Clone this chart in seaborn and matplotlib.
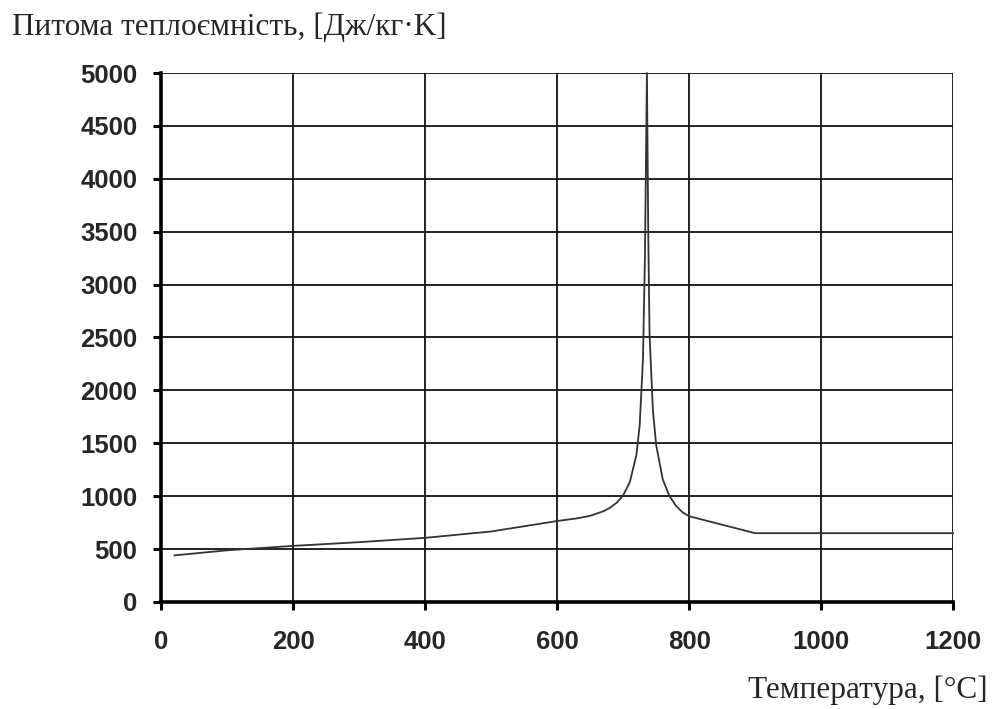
import numpy as np
import pandas as pd
import matplotlib
matplotlib.use("Agg")
import matplotlib.pyplot as plt
import seaborn as sns

# values (temperature, specific heat)
temperature = [20, 100, 200, 300, 400, 500, 600, 630, 650, 670, 680, 690, 700, 710, 720, 725,
               730, 733, 736, 738, 740, 745, 750, 760, 770, 780, 790, 800, 900, 1000, 1100, 1200]
specific_heat = [440, 488, 530, 565, 606, 666, 765, 790, 814, 857, 890, 937, 1008, 1130, 1388, 1666,
                 2291, 3266, 5000, 3500, 2525, 1818, 1483, 1159, 1002, 909, 847, 810, 650, 650, 650, 650]
x_ticks = [0, 200, 400, 600, 800, 1000, 1200]
y_ticks = [0, 500, 1000, 1500, 2000, 2500, 3000, 3500, 4000, 4500, 5000]

df = pd.DataFrame({"t": temperature, "c": specific_heat})

sns.set_style("white")
plt.rcParams['font.family'] = ['Liberation Sans', 'DejaVu Sans']

fig = plt.figure(figsize=(9.94, 7.09), dpi=100)
ax = fig.add_axes([0.162, 0.151, 0.797, 0.746])

sns.lineplot(data=df, x="t", y="c", ax=ax, color="#333333", linewidth=1.3, clip_on=False, zorder=3)

ax.set_xlim(0, 1200)
ax.set_ylim(0, 5000)
ax.set_xticks(x_ticks)
ax.set_yticks(y_ticks)
ax.grid(True, color="#111111", linewidth=1.3)
ax.set_axisbelow(True)

for s in ["top", "right"]:
    ax.spines[s].set_visible(False)
for s in ["left", "bottom"]:
    ax.spines[s].set_visible(True)
    ax.spines[s].set_color("black")
    ax.spines[s].set_linewidth(2.6)

ax.tick_params(axis="both", direction="out", length=6, width=2.2, color="black",
               labelsize=18.5, bottom=True, left=True)
ax.tick_params(axis="x", pad=14)
ax.tick_params(axis="y", pad=11)
for lbl in ax.get_xticklabels() + ax.get_yticklabels():
    lbl.set_fontweight("bold")

ax.set_xlabel("")
ax.set_ylabel("")

fig.text(0.012, 0.962, "Питома теплоємність, [Дж/кг·K]", fontsize=22.5,
         family=['Liberation Serif', 'DejaVu Serif'], ha="left", va="center")
fig.text(0.994, 0.027, "Температура, [°C]", fontsize=22.5,
         family=['Liberation Serif', 'DejaVu Serif'], ha="right", va="center")

fig.savefig("out.png", dpi=100)
